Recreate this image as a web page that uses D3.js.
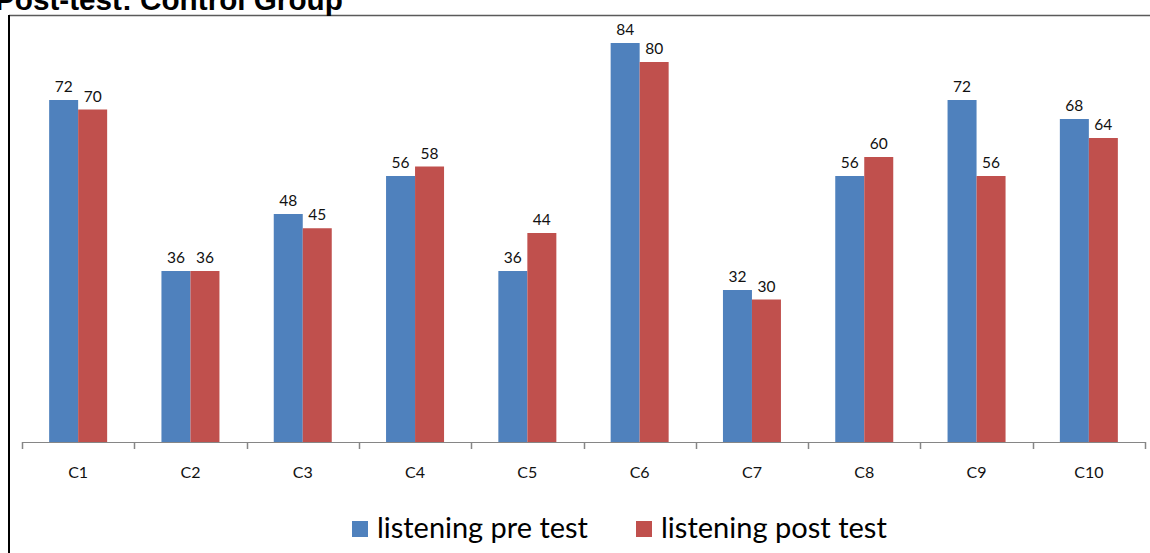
<!DOCTYPE html>
<html>
<head>
<meta charset="utf-8">
<script src="https://cdn.jsdelivr.net/npm/d3@7"></script>
<style>
  html, body { margin: 0; padding: 0; background: #fff; overflow: hidden; }
  svg { display: block; }
</style>
</head>
<body>
<svg id="chart" width="1150" height="553"></svg>
<script>
const title = "Post-test: Control Group";
const categories = ["C1", "C2", "C3", "C4", "C5", "C6", "C7", "C8", "C9", "C10"];
const seriesNames = ["listening pre test", "listening post test"];
const preTest = [72, 36, 48, 56, 36, 84, 32, 56, 72, 68];
const postTest = [70, 36, 45, 58, 44, 80, 30, 60, 56, 64];
const colors = ["#4F81BD", "#C0504D"];
const yMax = 90;

const svg = d3.select("#chart");
const W = 1150, H = 553;

// frame
svg.append("line").attr("x1", 9).attr("x2", W).attr("y1", 15.5).attr("y2", 15.5)
  .attr("stroke", "#5a5a5a").attr("stroke-width", 1.5);
svg.append("line").attr("x1", 9).attr("x2", 9).attr("y1", 15).attr("y2", H)
  .attr("stroke", "#000").attr("stroke-width", 2);

// title (cut at the top as in the reference)
const t = svg.append("text").attr("x", -5).attr("y", 10)
  .attr("font-family", "'Liberation Sans', Arial, sans-serif")
  .attr("font-weight", "bold").attr("font-size", 28).attr("fill", "#000")
  .text(title);
const tw = t.node().getComputedTextLength();
t.attr("font-size", 28 * 348 / tw);

const x = d3.scaleBand().domain(categories).range([22, 1145]).padding(0);
const y = d3.scaleLinear().domain([0, yMax]).range([442, 14.5]);
const groupW = 58;
const x1 = d3.scaleBand().domain([0, 1]).range([0, groupW]).padding(0);

const data = categories.map((c, i) => ({ c, vals: [preTest[i], postTest[i]] }));

const g = svg.append("g");
const groups = g.selectAll("g.cat").data(data).join("g")
  .attr("transform", d => `translate(${x(d.c) + x.bandwidth() / 2 - groupW / 2},0)`);

groups.selectAll("rect").data(d => d.vals.map((v, k) => ({ v, k }))).join("rect")
  .attr("x", d => x1(d.k))
  .attr("width", x1.bandwidth())
  .attr("y", d => y(d.v))
  .attr("height", d => y(0) - y(d.v))
  .attr("fill", d => colors[d.k]);

groups.selectAll("text").data(d => d.vals.map((v, k) => ({ v, k }))).join("text")
  .attr("x", d => x1(d.k) + x1.bandwidth() / 2)
  .attr("y", d => y(d.v) - 8)
  .attr("text-anchor", "middle")
  .attr("font-family", "Lato, 'Open Sans', sans-serif")
  .attr("font-size", 15.5)
  .attr("fill", "#111")
  .text(d => d.v);

// axis: labels via d3 axis, ticks at band boundaries
const axisG = svg.append("g").attr("transform", `translate(0,${y(0)})`)
  .call(d3.axisBottom(x).tickSize(0).tickPadding(0));
axisG.select(".domain").remove();
axisG.selectAll(".tick text")
  .attr("y", 36).attr("dy", null)
  .attr("font-family", "Lato, 'Open Sans', sans-serif")
  .attr("font-size", 16).attr("fill", "#111");

const bounds = categories.map(c => x(c)).concat([x.range()[1]]);
svg.append("line").attr("x1", 22).attr("x2", 1145).attr("y1", y(0) + 0.5).attr("y2", y(0) + 0.5)
  .attr("stroke", "#868686").attr("stroke-width", 1);
svg.selectAll("line.tk").data(bounds).join("line").attr("class", "tk")
  .attr("x1", d => Math.round(d) + 0.5).attr("x2", d => Math.round(d) + 0.5)
  .attr("y1", y(0)).attr("y2", y(0) + 7)
  .attr("stroke", "#868686").attr("stroke-width", 1.5);

// legend
const legendX = [352, 636];
const textTargets = [211, 226];
const lg = svg.append("g");
seriesNames.forEach((name, k) => {
  lg.append("rect").attr("x", legendX[k]).attr("y", 521).attr("width", 16).attr("height", 16)
    .attr("fill", colors[k]);
  const tx = lg.append("text").attr("x", legendX[k] + 25).attr("y", 538)
    .attr("font-family", "Lato, 'Open Sans', sans-serif")
    .attr("font-size", 24).attr("fill", "#000").text(name);
  const w = tx.node().getComputedTextLength();
  tx.attr("font-size", 24 * textTargets[k] / w);
});
</script>
</body>
</html>
